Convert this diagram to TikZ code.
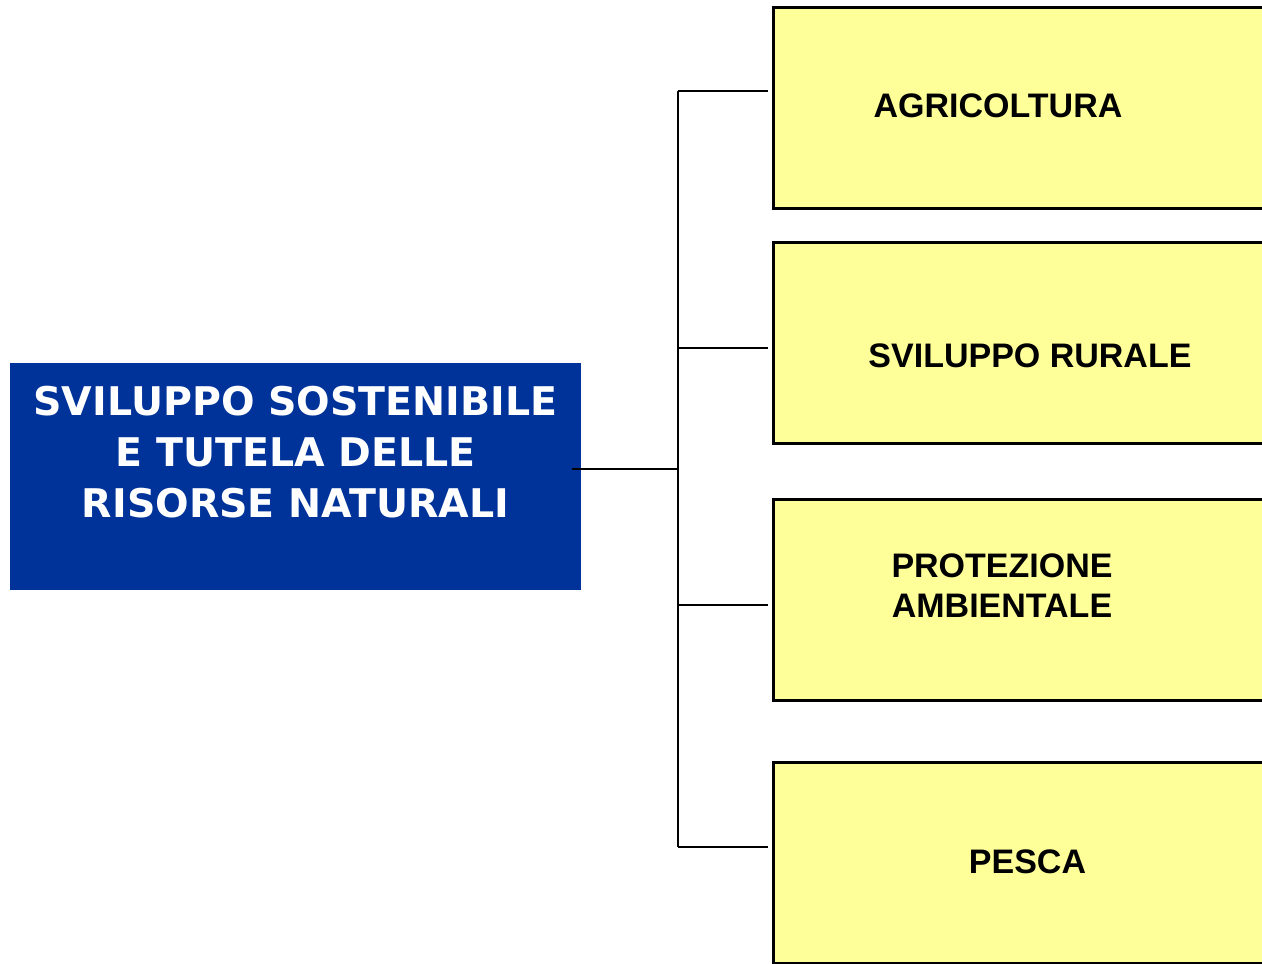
\documentclass[tikz,border=0pt]{standalone}
\usepackage{fontspec}
\setmainfont{Liberation Sans}
\newfontfamily\headfont{DejaVu Sans}
\definecolor{headblue}{HTML}{003399}
\definecolor{boxyellow}{HTML}{FFFF99}
\tikzset{
  headbox/.style={rectangle, fill=headblue, draw=none, anchor=north west, minimum width=571pt, minimum height=227pt, inner sep=0pt, outer sep=0pt},
  headtext/.style={text=white, align=center, inner sep=0pt, font=\headfont\bfseries\fontsize{39.5}{51}\selectfont},
  itembox/.style={rectangle, fill=boxyellow, draw=black, line width=3pt, anchor=north west, minimum width=560pt, minimum height=201pt, inner sep=0pt, outer sep=0pt},
  itemtext/.style={text=black, align=center, inner sep=0pt, font=\bfseries\fontsize{34}{40}\selectfont},
  conn/.style={draw=black, line width=1.6pt}
}
\begin{document}
\begin{tikzpicture}[x=1pt,y=-1pt]
\useasboundingbox (0,0) rectangle (1262,964);
\clip (0,0) rectangle (1262,964);
% head box
\node[headbox] (head) at (10,363) {};
\node[headtext] (headlabel) at (295.5,452) {SVILUPPO SOSTENIBILE\\E TUTELA DELLE\\RISORSE NATURALI};
% item boxes
\node[itembox] (b1) at (773.5,7) {};
\node[itembox] (b2) at (773.5,242) {};
\node[itembox] (b3) at (773.5,499) {};
\node[itembox] (b4) at (773.5,762) {};
\node[itemtext] (t1) at (998,106) {AGRICOLTURA};
\node[itemtext] (t2) at (1030,355.5) {SVILUPPO RURALE};
\node[itemtext] (t3) at (1002,585.5) {PROTEZIONE\\AMBIENTALE};
\node[itemtext] (t4) at (1027.5,861.5) {PESCA};
% connector coordinates
\coordinate (hs) at (572,469);
\coordinate (tj) at (678,469);
\coordinate (j1) at (678,91);
\coordinate (j2) at (678,348);
\coordinate (j3) at (678,605);
\coordinate (j4) at (678,847);
\coordinate (e1) at (768,91);
\coordinate (e2) at (768,348);
\coordinate (e3) at (768,605);
\coordinate (e4) at (768,847);
\draw[conn] (hs) -- (tj);
\draw[conn] (j1) -- (j4);
\draw[conn] (j1) -- (e1);
\draw[conn] (j2) -- (e2);
\draw[conn] (j3) -- (e3);
\draw[conn] (j4) -- (e4);
\end{tikzpicture}
\end{document}
